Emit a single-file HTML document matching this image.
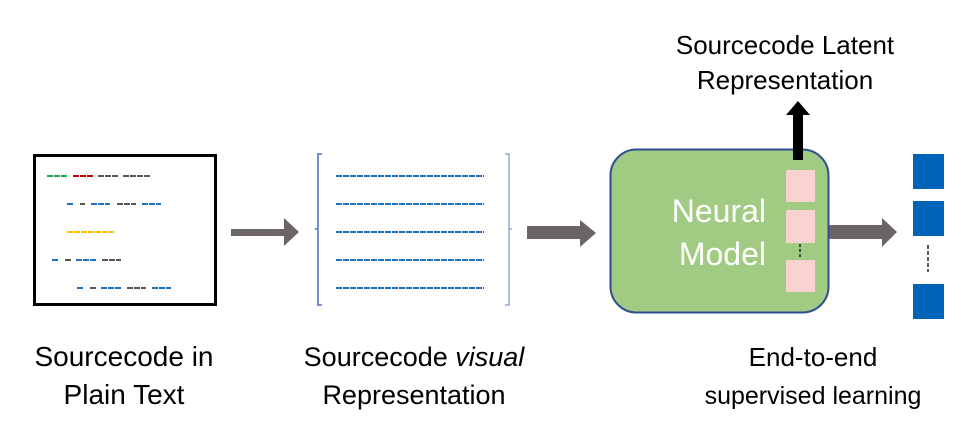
<!DOCTYPE html>
<html><head><meta charset="utf-8"><style>
body{margin:0;background:#fff;width:955px;height:424px;overflow:hidden;font-family:"Liberation Sans",sans-serif}
</style></head><body>
<svg width="955" height="424" xmlns="http://www.w3.org/2000/svg" font-family="Liberation Sans, sans-serif">
<rect x="34.5" y="155.5" width="181" height="149" fill="#fff" stroke="#000" stroke-width="3"/>
<g stroke-width="2" stroke-dasharray="6,1">
<line x1="47" y1="176" x2="67" y2="176" stroke="#21a650"/>
<line x1="73" y1="176" x2="93" y2="176" stroke="#c00000"/>
<line x1="98" y1="176" x2="118" y2="176" stroke="#555"/>
<line x1="123" y1="176" x2="150" y2="176" stroke="#505a66"/>
<line x1="67" y1="204" x2="73" y2="204" stroke="#1f72c4"/>
<line x1="80" y1="204" x2="85" y2="204" stroke="#555"/>
<line x1="91" y1="204" x2="110" y2="204" stroke="#1f72c4"/>
<line x1="117" y1="204" x2="136" y2="204" stroke="#555"/>
<line x1="142" y1="204" x2="161" y2="204" stroke="#1f72c4"/>
<line x1="67" y1="232" x2="114" y2="232" stroke="#ffc000"/>
<line x1="52" y1="260" x2="58" y2="260" stroke="#1f72c4"/>
<line x1="65" y1="260" x2="71" y2="260" stroke="#555"/>
<line x1="76" y1="260" x2="96" y2="260" stroke="#1f72c4"/>
<line x1="102" y1="260" x2="121" y2="260" stroke="#555"/>
<line x1="77" y1="288" x2="84" y2="288" stroke="#1f72c4"/>
<line x1="90" y1="288" x2="96" y2="288" stroke="#555"/>
<line x1="101" y1="288" x2="121" y2="288" stroke="#1f72c4"/>
<line x1="127" y1="288" x2="146" y2="288" stroke="#555"/>
<line x1="152" y1="288" x2="171" y2="288" stroke="#1f72c4"/>
</g>
<polygon points="231,229 284,229 284,218 299,232 284,246 284,236 231,236" fill="#6b6665"/>
<polygon points="527,226 580,226 580,220 596,233 580,247 580,239 527,239" fill="#6b6665"/>
<polygon points="829,225 882,225 882,218 897,232 882,247 882,239 829,239" fill="#6b6665"/>
<path d="M322,154 H318 V305 H322 M318,229 H315" fill="none" stroke="#4472c4" stroke-width="1.5"/>
<path d="M505,154 H509 V305 H505 M509,229 H512" fill="none" stroke="#8fa8dc" stroke-width="1.5"/>
<g stroke="#1f72c4" stroke-width="2" stroke-dasharray="6,1">
<line x1="336" y1="176" x2="484" y2="176"/><line x1="336" y1="204" x2="484" y2="204"/>
<line x1="336" y1="232" x2="484" y2="232"/><line x1="336" y1="260" x2="484" y2="260"/>
<line x1="336" y1="288" x2="484" y2="288"/>
</g>
<rect x="610.5" y="149.5" width="218" height="163" rx="26" fill="#a1cb82" stroke="#2f4f8f" stroke-width="2"/>
<rect x="786" y="170" width="29" height="32" fill="#f8d3d0"/>
<rect x="786" y="210" width="29" height="33" fill="#f8d3d0"/>
<rect x="786" y="260" width="29" height="32" fill="#f8d3d0"/>
<line x1="800" y1="244" x2="800" y2="259" stroke="#222" stroke-width="1.5" stroke-dasharray="3,2"/>
<text x="766" y="222" font-size="32" fill="#fff" text-anchor="end">Neural</text>
<text x="766" y="265" font-size="32" fill="#fff" text-anchor="end">Model</text>
<rect x="793" y="114" width="10" height="46" fill="#000"/>
<polygon points="786,115 798,101 810,115" fill="#000"/>
<rect x="913" y="154" width="31" height="35" fill="#0063ba"/>
<rect x="913" y="201" width="31" height="35" fill="#0063ba"/>
<rect x="913" y="284" width="31" height="35" fill="#0063ba"/>
<line x1="928" y1="245" x2="928" y2="272" stroke="#222" stroke-width="1.5" stroke-dasharray="4,2"/>
<g font-size="26" fill="#000" text-anchor="middle">
<text x="785" y="54">Sourcecode Latent</text>
<text x="785" y="89">Representation</text>
<text x="124" y="366" font-size="28">Sourcecode in</text>
<text x="124" y="404" font-size="28">Plain Text</text>
<text x="414" y="366" font-size="27">Sourcecode <tspan font-style="italic">visual</tspan></text>
<text x="414" y="404" font-size="27">Representation</text>
<text x="813" y="366">End-to-end</text>
<text x="813" y="404" font-size="25">supervised learning</text>
</g>
</svg>
</body></html>
